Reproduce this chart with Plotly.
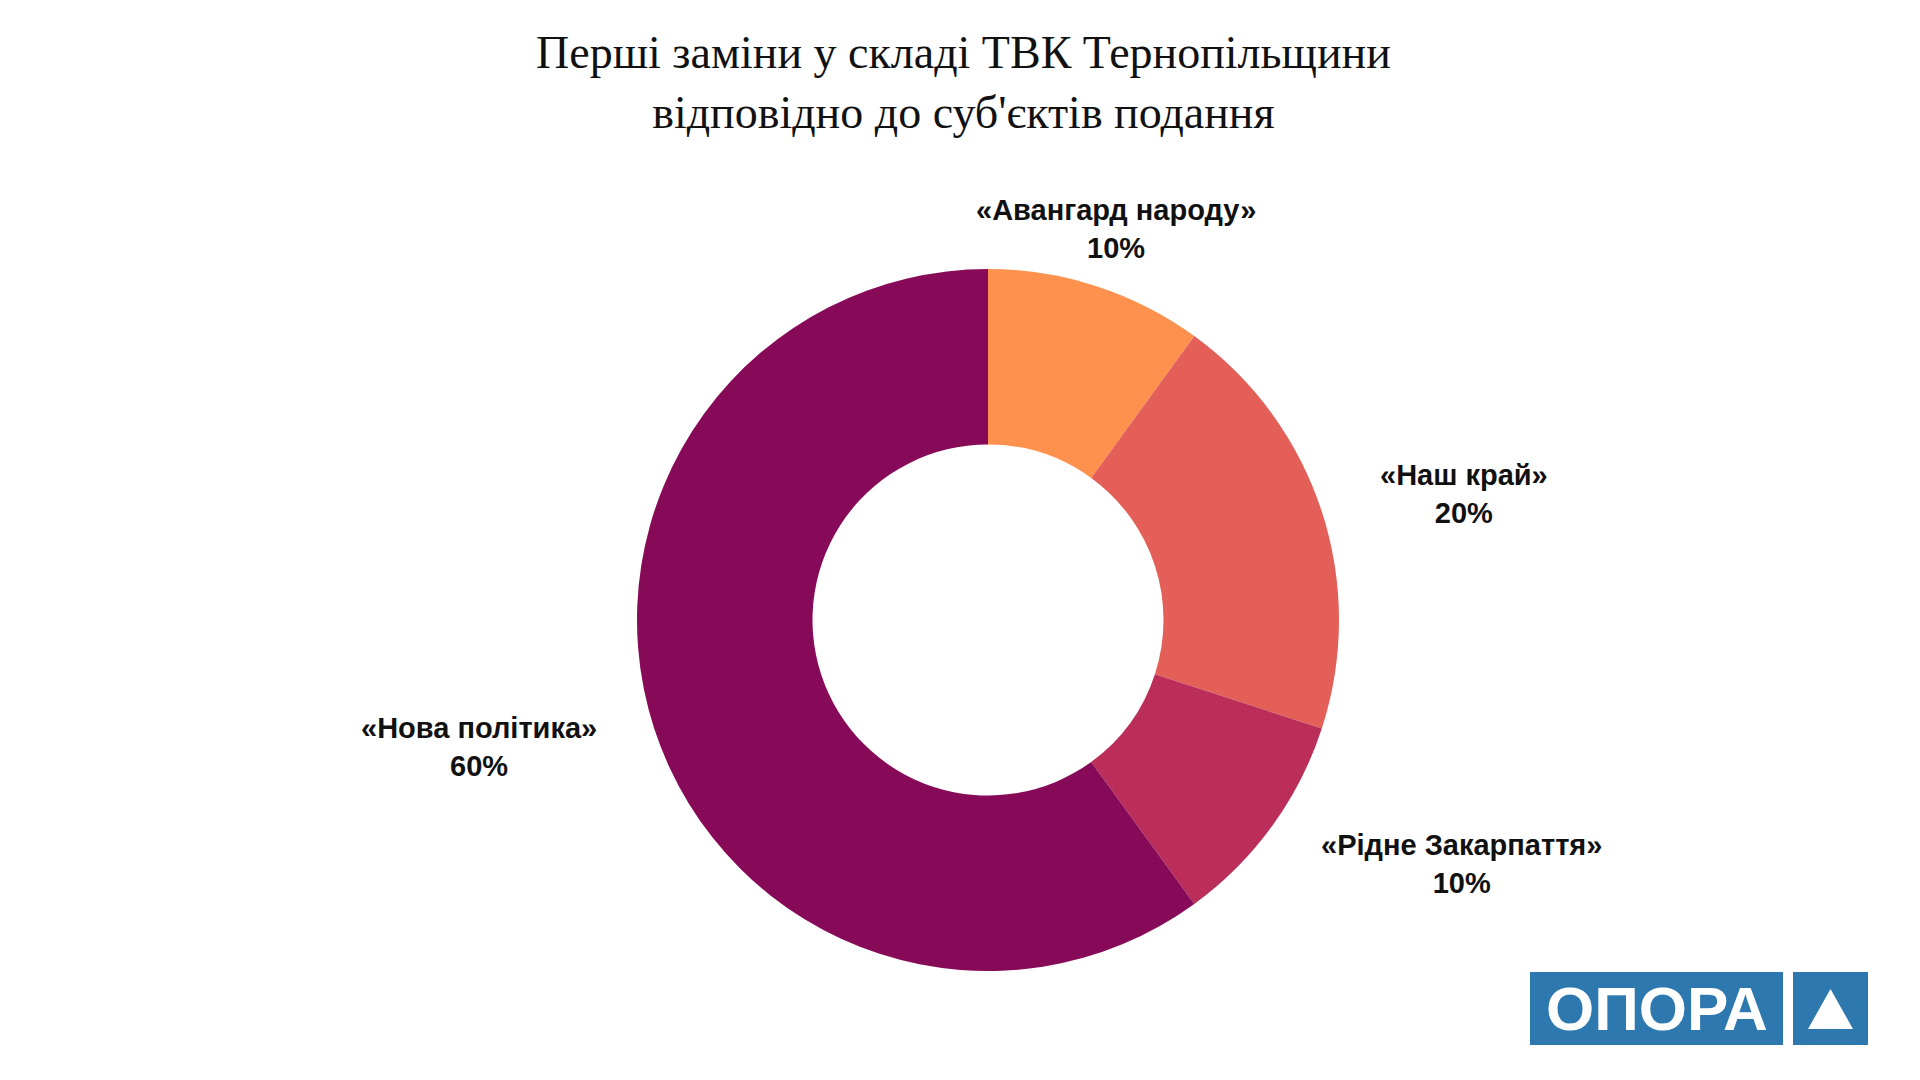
import plotly.graph_objects as go

# ---- data ----
parties = ["«Авангард народу»", "«Наш край»", "«Рідне Закарпаття»", "«Нова політика»"]
shares = [10, 20, 10, 60]
colors = ["#FE914D", "#E35F58", "#BB2E5A", "#870A58"]
title_lines = ["Перші заміни у складі ТВК Тернопільщини", "відповідно до суб'єктів подання"]

W, H = 1920, 1080
OFF = 8  # page body margin compensation


def px_x(v):
    return (v - OFF) / W


def px_y(v):
    return 1 - (v - OFF) / H


# ---- layout helpers (pixel positions of outside labels) ----
label_px = [(1116, 229), (1464, 494), (1461, 864), (479, 747)]

cx, cy, R = 988, 620, 351

fig = go.Figure(go.Pie(
    labels=parties,
    values=shares,
    marker=dict(colors=colors, line=dict(width=0)),
    hole=0.5,
    sort=False,
    direction="clockwise",
    rotation=0,
    textinfo="none",
    hoverinfo="label+percent",
    domain=dict(x=[px_x(cx - R), px_x(cx + R)],
                y=[px_y(cy + R), px_y(cy - R)]),
    showlegend=False,
))

annotations = []
for name, val, (px, py) in zip(parties, shares, label_px):
    annotations.append(dict(
        x=px_x(px), y=px_y(py), xref="paper", yref="paper",
        xanchor="center", yanchor="middle", showarrow=False,
        text=f"{name}<br>{val}%", align="center",
        font=dict(family="Liberation Sans", size=29, color="#111111", weight="bold"),
    ))

annotations.append(dict(
    x=px_x(963), y=px_y(83), xref="paper", yref="paper",
    xanchor="center", yanchor="middle", showarrow=False,
    text="<br>".join(title_lines), align="center",
    font=dict(family="Liberation Serif", size=46, color="#111111"),
))

# logo text
annotations.append(dict(
    x=px_x((1530 + 1783) / 2), y=px_y(1008), xref="paper", yref="paper",
    xanchor="center", yanchor="middle", showarrow=False,
    text="ОПОРА",
    font=dict(family="Liberation Sans", size=62, color="white", weight="bold"),
))

logo_blue = "#2E78B0"
shapes = [
    dict(type="rect", xref="paper", yref="paper",
         x0=px_x(1530), x1=px_x(1783), y0=px_y(1045), y1=px_y(972),
         fillcolor=logo_blue, line=dict(width=0), layer="below"),
    dict(type="rect", xref="paper", yref="paper",
         x0=px_x(1793), x1=px_x(1868), y0=px_y(1045), y1=px_y(972),
         fillcolor=logo_blue, line=dict(width=0), layer="below"),
    dict(type="path", xref="paper", yref="paper",
         path=f"M {px_x(1808)} {px_y(1029)} L {px_x(1853)} {px_y(1029)} L {px_x(1830.5)} {px_y(989)} Z",
         fillcolor="white", line=dict(width=0)),
]

fig.update_layout(
    width=W, height=H,
    margin=dict(l=0, r=0, t=0, b=0),
    paper_bgcolor="white", plot_bgcolor="white",
    annotations=annotations,
    shapes=shapes,
)

fig.write_html("out.html")
